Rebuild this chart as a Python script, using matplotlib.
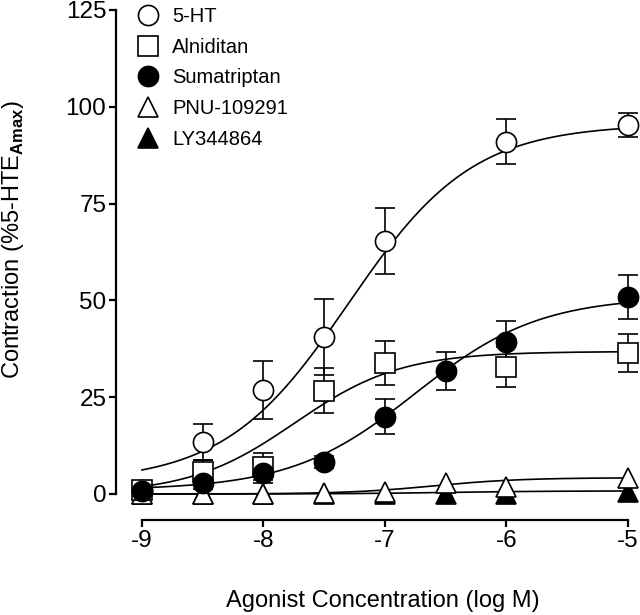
import numpy as np
import matplotlib
matplotlib.use('Agg')
from matplotlib import pyplot as plt

plt.rcParams['font.family'] = ['Liberation Sans', 'DejaVu Sans']
plt.rcParams['mathtext.fontset'] = 'custom'
plt.rcParams['mathtext.rm'] = 'Liberation Sans'
plt.rcParams['mathtext.bf'] = 'Liberation Sans:bold'

# mean responses (% of 5-HT Emax) and s.e.m.
ht_x = [-9, -8.5, -8, -7.5, -7, -6, -5]
ht_y = [1, 13.4, 26.8, 40.5, 65.3, 91, 95.3]
ht_err = [1.5, 4.6, 7.5, 9.8, 8.5, 5.8, 3]

aln_x = [-9, -8.5, -8, -7.5, -7, -6, -5]
aln_y = [1, 5.7, 7, 26.7, 33.8, 32.8, 36.4]
aln_err = [2, 3.2, 3.5, 5.8, 5.6, 5.2, 4.8]

sum_x = [-9, -8.5, -8, -7.5, -7, -6.5, -6, -5]
sum_y = [0.8, 2.8, 5.4, 8.2, 20, 31.8, 39.3, 50.9]
sum_err = [1, 1.5, 2.5, 1.5, 4.5, 5, 5.3, 5.7]

tri_x = [-9, -8.5, -8, -7.5, -7, -6.5, -6, -5]
pnu_y = [0, 0, 0, 0.3, 0.5, 2.8, 1.8, 4.1]
ly_y = [0, 0, 0, 0, 0, 0, 0, 0.6]

# fitted sigmoid parameters: bottom, top, logEC50, hill slope
ht_fit = [3, 95.5, -7.3, 0.85]
aln_fit = [0, 36.8, -7.74, 1.0]
sum_fit = [1, 51, -6.75, 0.85]
pnu_fit = [0, 4.2, -6.6, 1.2]
ly_fit = [0, 0.8, -6.5, 1.0]


def sigmoid(x, p):
    b, t, ec, h = p
    return b + (t - b) / (1 + 10 ** ((ec - x) * h))


fig = plt.figure(figsize=(6.4, 6.15), dpi=100)
ax = fig.add_axes([116/640, 95/615, 522/640, 515/615])

xc = np.linspace(-9, -5, 300)
for p in [ht_fit, aln_fit, sum_fit, pnu_fit, ly_fit]:
    ax.plot(xc, sigmoid(xc, p), color='black', lw=1.2, zorder=2)

ekw = dict(fmt='none', ecolor='black', elinewidth=1.2, capsize=7, capthick=1.2, zorder=3, clip_on=False)
ax.errorbar(ht_x, ht_y, yerr=ht_err, **ekw)
ax.errorbar(aln_x, aln_y, yerr=aln_err, **ekw)
ax.errorbar(sum_x, sum_y, yerr=sum_err, **ekw)

mkw = dict(ls='none', mec='black', mew=1.2, clip_on=False)
ax.plot(tri_x, ly_y, marker='^', ms=15, mfc='black', label='LY344864', zorder=4, **mkw)
ax.plot(tri_x, pnu_y, marker='^', ms=15, mfc='white', label='PNU-109291', zorder=4, **mkw)
ax.plot(ht_x, ht_y, marker='o', ms=14.5, mfc='white', label='5-HT', zorder=5, **mkw)
ax.plot(aln_x, aln_y, marker='s', ms=14, mfc='white', label='Alniditan', zorder=5, **mkw)
ax.plot(sum_x, sum_y, marker='o', ms=14.5, mfc='black', label='Sumatriptan', zorder=5, **mkw)

ax.set_xlim(-9 - 26/121.5, -5 + 10/121.5)
ax.set_ylim(-26/3.872, 125 + 5/3.872)
ax.set_xticks([-9, -8, -7, -6, -5])
ax.set_xticklabels(['-9', '-8', '-7', '-6', '-5'])
ax.set_yticks([0, 25, 50, 75, 100, 125])

for s in ['top', 'right']:
    ax.spines[s].set_visible(False)
ax.spines['left'].set_bounds(0, 125)
ax.spines['bottom'].set_bounds(-9, -5)
ax.spines['left'].set_linewidth(1.6)
ax.spines['bottom'].set_linewidth(1.6)
ax.tick_params(axis='both', direction='out', length=5, width=1.6, labelsize=17.5, pad=2)

ax.set_ylabel(r'Contraction (%5-HTE$_{\mathbf{Amax}}$)', fontsize=17)
ax.yaxis.set_label_coords((13 - 116)/522, (520 - 240)/515)
ax.set_xlabel('Agonist Concentration (log M)', fontsize=17)
ax.xaxis.set_label_coords((383 - 116)/522, (520 - 601)/515)
ax.xaxis.label.set_va('center')
ax.yaxis.label.set_va('center')

handles, labels = ax.get_legend_handles_labels()
order = [2, 3, 4, 1, 0]
ax.legend([handles[i] for i in order], [labels[i] for i in order],
          loc='upper left', bbox_to_anchor=(136/640, 1 - 7/615), bbox_transform=fig.transFigure,
          frameon=False, fontsize=14.5, handlelength=1.2, handletextpad=0.6,
          labelspacing=0.58, borderpad=0, borderaxespad=0)

fig.savefig('out.png', dpi=100)
